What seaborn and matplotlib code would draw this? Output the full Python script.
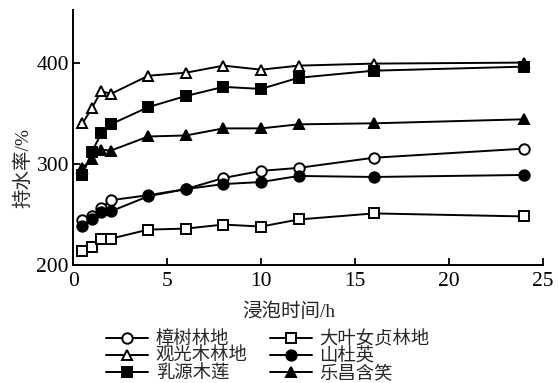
import pandas as pd
import numpy as np
import seaborn as sns
import matplotlib.pyplot as plt

sns.set_style("ticks")
plt.rcParams['font.family'] = ['Liberation Serif', 'Noto Sans CJK SC']
plt.rcParams['axes.unicode_minus'] = False

hours = [0.5, 1, 1.5, 2, 4, 6, 8, 10, 12, 16, 24]

zhangshu = [244, 248, 256, 264, 269, 275, 286, 293, 296, 306, 315]
guangguangmu = [340, 355, 372, 369, 387, 390, 397, 393, 397, 399, 400]
ruyuan = [289, 312, 330, 339, 356, 367, 376, 374, 385, 392, 396]
dayenvzhen = [214, 218, 226, 226, 235, 236, 240, 238, 245, 251, 248]
shandu = [239, 245, 252, 253, 268, 275, 280, 282, 288, 287, 289]
lechang = [296, 305, 314, 313, 327, 328, 335, 335, 339, 340, 344]

series = [
    ('樟树林地', zhangshu, 'o', 'white'),
    ('观光木林地', guangguangmu, '^', 'white'),
    ('乳源木莲', ruyuan, 's', 'black'),
    ('大叶女贞林地', dayenvzhen, 's', 'white'),
    ('山杜英', shandu, 'o', 'black'),
    ('乐昌含笑', lechang, '^', 'black'),
]

fig = plt.figure(figsize=(5.58, 3.83), dpi=100)
ax = fig.add_axes([0.131, 0.308, 0.842, 0.666])

for name, vals, mk, fc in series:
    df = pd.DataFrame({'h': hours, 'v': vals})
    sns.lineplot(data=df, x='h', y='v', ax=ax, color='black', lw=1.4,
                 marker=mk, markersize=7.5 if mk != 's' else 6.5,
                 markerfacecolor=fc, markeredgecolor='black', markeredgewidth=1.4,
                 label=name)

ax.set_xlim(0, 25)
ax.set_ylim(200, 452)
ax.set_xticks([0, 5, 10, 15, 20, 25])
ax.set_yticks([200, 300, 400])
ax.tick_params(direction='in', length=5, width=1.3, labelsize=15.5, colors='black')
ax.tick_params(axis='x', pad=5)
ax.tick_params(axis='y', pad=3)
for s in ['top', 'right']:
    ax.spines[s].set_visible(False)
for s in ['left', 'bottom']:
    ax.spines[s].set_linewidth(1.4)
    ax.spines[s].set_color('black')
ax.set_xlabel('浸泡时间/h', fontsize=14)
ax.set_ylabel('持水率/%', fontsize=14)
ax.xaxis.set_label_coords(0.46, -0.145)
ax.yaxis.set_label_coords(-0.087, 0.38)

handles, labels = ax.get_legend_handles_labels()
ax.get_legend().remove()
fig.legend(handles, labels, ncol=2, loc='lower center', bbox_to_anchor=(0.48, -0.022),
           frameon=False, fontsize=13.2, handlelength=2.3, labelspacing=0.0,
           columnspacing=1.2, handletextpad=0.4, borderpad=0.0)

fig.savefig('out.png', dpi=100)
